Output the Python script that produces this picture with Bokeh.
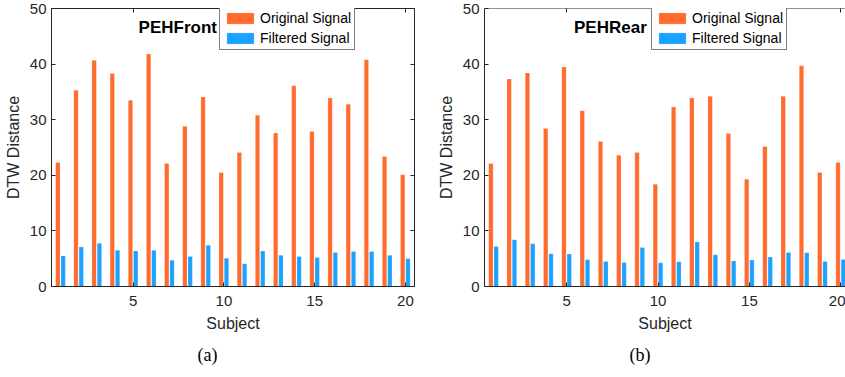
from bokeh.plotting import figure
from bokeh.models import (Range1d, FixedTicker, LinearAxis, Legend, LegendItem,
                          Label, Title, Span, ColumnDataSource)
from bokeh.layouts import row
from bokeh.transform import dodge
from bokeh.embed import file_html
from bokeh.resources import INLINE

subjects = list(range(1, 21))
front_original = [22.3, 35.3, 40.7, 38.3, 33.5, 41.8, 22.1, 28.8, 34.1, 20.5,
                  24.1, 30.8, 27.6, 36.1, 27.9, 33.9, 32.8, 40.8, 23.4, 20.1]
front_filtered = [5.5, 7.1, 7.8, 6.5, 6.4, 6.5, 4.7, 5.4, 7.4, 5.1,
                  4.1, 6.4, 5.6, 5.4, 5.2, 6.1, 6.3, 6.3, 5.6, 5.0]
rear_original = [22.1, 37.3, 38.4, 28.4, 39.5, 31.6, 26.1, 23.6, 24.1, 18.4,
                 32.3, 33.9, 34.2, 27.5, 19.3, 25.2, 34.2, 39.7, 20.5, 22.3]
rear_filtered = [7.2, 8.4, 7.7, 5.9, 5.85, 4.8, 4.5, 4.3, 7.0, 4.25,
                 4.45, 8.0, 5.7, 4.6, 4.75, 5.3, 6.1, 6.05, 4.5, 4.85]
y_ticks = [0, 10, 20, 30, 40, 50]
x_ticks = [5, 10, 15, 20]
series_labels = ["Original Signal", "Filtered Signal"]

ORANGE = "#FF6A2D"
BLUE = "#1BA1FF"
AX = "#262626"
FONT = "Liberation Sans"
H = 376


def tick_only_axis(ticks):
    return LinearAxis(ticker=FixedTicker(ticks=ticks), major_tick_in=4,
                      major_tick_out=0, minor_tick_line_color=None,
                      axis_line_color=None, major_tick_line_color=AX,
                      major_label_text_color=None, major_label_text_font_size="1px",
                      major_label_standoff=0)


def make_panel(name, orig, filt, width, mbl, mbr, x_end, caption, cap_off,
               legend_x, title_x, full_box):
    src = ColumnDataSource(dict(subject=subjects, orig=orig, filt=filt))
    p = figure(width=width, height=H, output_backend="svg", toolbar_location=None,
               x_range=Range1d(0.5, x_end), y_range=Range1d(0, 50),
               min_border_left=mbl, min_border_right=mbr, min_border_top=8,
               min_border_bottom=H - 8 - 278)
    p.grid.visible = False
    p.background_fill_color = "white"
    p.border_fill_color = "white"
    if full_box:
        p.outline_line_color = AX
        p.outline_line_width = 1
    else:
        p.outline_line_color = None
        p.add_layout(Span(location=50, dimension="width", line_color=AX, line_width=1))

    r1 = p.vbar(x=dodge("subject", -0.15), top="orig", width=0.24, source=src,
                fill_color=ORANGE, line_color="white", line_alpha=0.35, line_width=0.6)
    r2 = p.vbar(x=dodge("subject", 0.14), top="filt", width=0.24, source=src,
                fill_color=BLUE, line_color="white", line_alpha=0.35, line_width=0.6)

    for ax in p.xaxis:
        ax.ticker = FixedTicker(ticks=x_ticks)
    for ax in p.yaxis:
        ax.ticker = FixedTicker(ticks=y_ticks)
    for ax in list(p.xaxis) + list(p.yaxis):
        ax.major_tick_in = 4
        ax.major_tick_out = 0
        ax.minor_tick_line_color = None
        ax.axis_line_color = AX
        ax.major_tick_line_color = AX
        ax.major_label_text_color = AX
        ax.major_label_text_font = FONT
        ax.major_label_text_font_size = "15px"
        ax.axis_label_text_font = FONT
        ax.axis_label_text_font_size = "16px"
        ax.axis_label_text_font_style = "normal"
        ax.axis_label_text_color = AX
    p.xaxis.axis_label = "Subject"
    p.yaxis.axis_label = "DTW Distance"
    p.xaxis.major_label_standoff = 9
    p.xaxis.axis_label_standoff = 6
    p.yaxis.major_label_standoff = 5
    p.yaxis.axis_label_standoff = 5

    p.add_layout(tick_only_axis(x_ticks), "above")
    if full_box:
        p.add_layout(tick_only_axis(y_ticks), "right")

    legend = Legend(items=[LegendItem(label=series_labels[0], renderers=[r1]),
                           LegendItem(label=series_labels[1], renderers=[r2])],
                    location=(legend_x, 236), padding=3, spacing=4, margin=0,
                    glyph_width=34, glyph_height=14, label_height=14,
                    label_standoff=3, label_text_font=FONT,
                    label_text_font_size="14px", label_text_color="black",
                    border_line_color="black", border_line_width=1,
                    background_fill_color="white", background_fill_alpha=1)
    p.add_layout(legend, "center")

    p.add_layout(Label(x=title_x, y=46.6, text=name, text_baseline="middle",
                       text_font=FONT, text_font_style="bold",
                       text_font_size="17px", text_color="black"))

    cap = Title(text=caption, align="left", offset=cap_off, text_font="Liberation Serif",
                text_font_size="18px", text_font_style="normal", text_color="black",
                standoff=17)
    p.add_layout(cap, "below")
    return p


left = make_panel("PEHFront", front_original, front_filtered, 434, 51, 20, 20.5,
                  "(a)", 146, 168, 5.3, True)
right = make_panel("PEHRear", rear_original, rear_filtered, 411, 50, 0, 20.26,
                   "(b)", 145, 167, 5.4, False)

layout = row(left, right)
open("out.html", "w").write(file_html(layout, INLINE))
